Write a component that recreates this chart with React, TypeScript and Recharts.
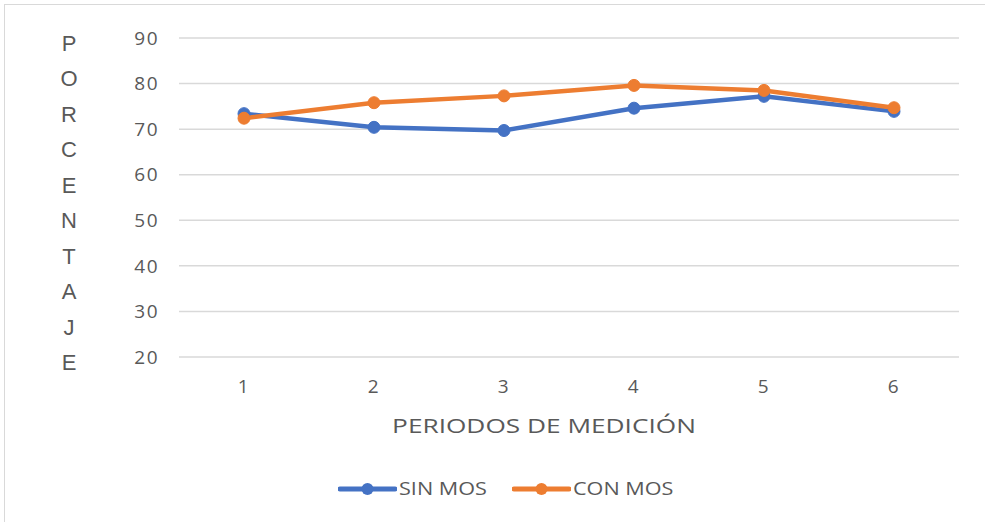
import React from 'react';
import {
  LineChart,
  Line,
  XAxis,
  YAxis,
  CartesianGrid,
} from 'recharts';

const periods = ['1', '2', '3', '4', '5', '6'];
const sinMos = [73.4, 70.4, 69.7, 74.6, 77.2, 73.9];
const conMos = [72.4, 75.8, 77.3, 79.6, 78.5, 74.7];
const yTicks = [20, 30, 40, 50, 60, 70, 80, 90];
const yTitle = 'PORCENTAJE';
const xTitle = 'PERIODOS DE MEDICIÓN';
const seriesNames = ['SIN MOS', 'CON MOS'];

const BLUE = '#4472C4';
const ORANGE = '#ED7D31';
const TEXT = '#595959';
const FONT = '"Open Sans", "Liberation Sans", sans-serif';

const data = periods.map((p, i) => ({
  period: p,
  sin: sinMos[i],
  con: conMos[i],
}));

const YTitle = (props: any) => {
  const { viewBox } = props;
  const letters = yTitle.split('');
  const step = viewBox.height / (letters.length - 1);
  return (
    <text
      fill={TEXT}
      fontSize={22}
      fontFamily='"Liberation Sans", Arial, sans-serif'
      textAnchor="middle"
    >
      {letters.map((ch, i) => (
        <tspan key={i} x={69} y={viewBox.y + 5 + i * step + 8}>
          {ch}
        </tspan>
      ))}
    </text>
  );
};

const XTitle = (props: any) => {
  const { viewBox } = props;
  const cx = viewBox.x + viewBox.width / 2 - 25;
  return (
    <text
      transform={`translate(${cx},433) scale(1.28,1)`}
      fill={TEXT}
      fontSize={20.5}
      fontFamily={FONT}
      textAnchor="middle"
    >
      {xTitle}
    </text>
  );
};

const LegendBox = () => {
  const colors = [BLUE, ORANGE];
  const widths = [86, 99];
  return (
    <div
      style={{
        position: 'absolute',
        left: 338,
        top: 479,
        height: 20,
        display: 'flex',
        alignItems: 'center',
        fontFamily: FONT,
        whiteSpace: 'nowrap',
      }}
    >
      {seriesNames.map((name, i) => (
        <div
          key={name}
          style={{ display: 'flex', alignItems: 'center', marginRight: 27 }}
        >
          <svg width={59} height={14} style={{ display: 'block' }}>
            <line x1={2} y1={7} x2={57} y2={7} stroke={colors[i]} strokeWidth={5} strokeLinecap="round" />
            <circle cx={29.5} cy={7} r={6} fill={colors[i]} />
          </svg>
          <div style={{ width: widths[i], marginLeft: 2, overflow: 'visible' }}>
            <span
              style={{
                display: 'inline-block',
                color: TEXT,
                fontSize: 18,
                lineHeight: '20px',
                transform: 'scaleX(1.2)',
                transformOrigin: 'left center',
              }}
            >
              {name}
            </span>
          </div>
        </div>
      ))}
    </div>
  );
};

export default function App() {
  return (
    <div style={{ position: 'absolute', left: 0, top: 0, width: 985, height: 522, overflow: 'hidden', background: '#fff' }}>
      <div
        style={{
          position: 'absolute',
          left: 4,
          top: 4,
          width: 985,
          height: 522,
          borderTop: '1.5px solid #d9d9d9',
          borderLeft: '1.5px solid #d9d9d9',
        }}
      />
      <div style={{ position: 'absolute', left: 0, top: 0 }}>
        <LineChart
          width={985}
          height={522}
          data={data}
          margin={{ top: 38, right: 26, bottom: 135, left: 79 }}
        >
          <CartesianGrid vertical={false} stroke="#d9d9d9" strokeWidth={1.5} />
          <XAxis
            dataKey="period"
            axisLine={false}
            tickLine={false}
            padding={{ left: 65, right: 65 }}
            tickMargin={16.5}
            tick={{ fill: TEXT, fontSize: 19, fontFamily: FONT, letterSpacing: 1.5 }}
            label={<XTitle />}
          />
          <YAxis
            width={100}
            domain={[20, 90]}
            ticks={yTicks}
            axisLine={false}
            tickLine={false}
            tickMargin={14}
            tick={{ fill: TEXT, fontSize: 19, fontFamily: FONT, letterSpacing: 1.5 }}
            label={<YTitle />}
          />
          <Line
            dataKey="sin"
            name={seriesNames[0]}
            stroke={BLUE}
            strokeWidth={4.5}
            dot={{ r: 6, fill: BLUE, stroke: BLUE, strokeWidth: 1 }}
            activeDot={false}
            isAnimationActive={false}
          />
          <Line
            dataKey="con"
            name={seriesNames[1]}
            stroke={ORANGE}
            strokeWidth={4.5}
            dot={{ r: 6, fill: ORANGE, stroke: ORANGE, strokeWidth: 1 }}
            activeDot={false}
            isAnimationActive={false}
          />
        </LineChart>
      </div>
      <LegendBox />
    </div>
  );
}
